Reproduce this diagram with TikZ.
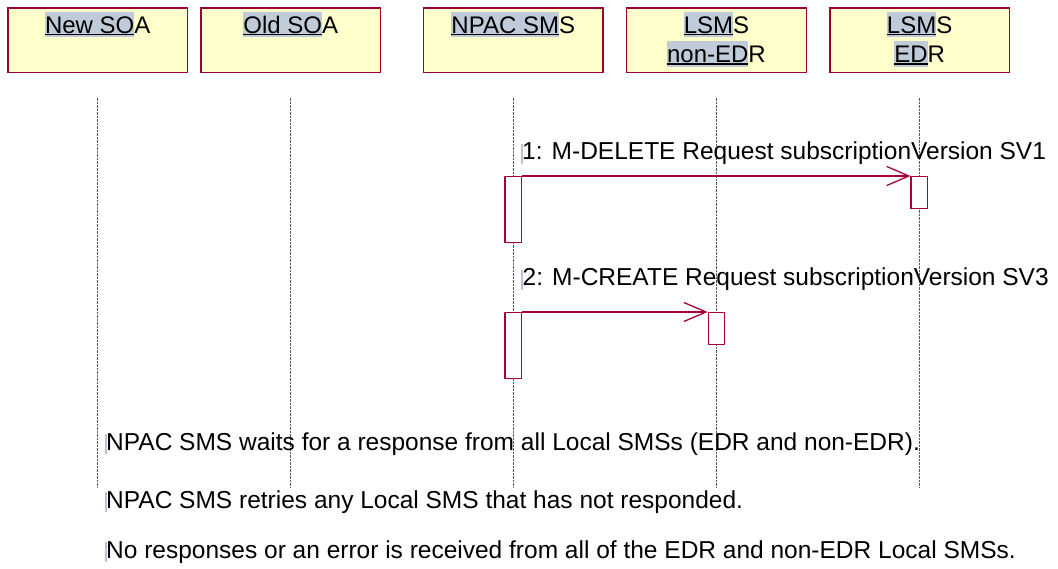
\documentclass[tikz,border=0pt]{standalone}
\usepackage{fontspec}
\setmainfont{Liberation Sans}
\usetikzlibrary{arrows.meta}
\definecolor{boxfill}{RGB}{255,255,204}
\definecolor{boxline}{RGB}{160,0,48}
\definecolor{msgline}{RGB}{168,0,56}
\definecolor{hlc}{RGB}{192,203,218}
\definecolor{barc}{RGB}{184,196,214}
\definecolor{lifec}{RGB}{85,85,85}
\newcommand\hlpart[1]{\setbox0\hbox{#1}{\setlength{\fboxsep}{0pt}\colorbox{hlc}{\rule[-4pt]{0pt}{25.3pt}\rlap{\rule[-1.9pt]{\wd0}{1.1pt}}\box0}}}
\begin{document}
\begin{tikzpicture}[x=1pt,y=-1pt,
  actor/.style={draw=boxline, fill=boxfill, line width=1.4pt, minimum width=179.5pt, minimum height=64.7pt, inner sep=0pt, anchor=north west},
  hdr/.style={anchor=base, inner sep=0pt, font=\fontsize{24}{29}\selectfont},
  lifeline/.style={draw=lifec, line width=0.8pt, dash pattern=on 2.5pt off 1pt},
  act/.style={draw=msgline, fill=white, line width=1.2pt, inner sep=0pt, anchor=north west, minimum width=16.4pt},
  msg/.style={draw=msgline, line width=1.3pt, -{Straight Barb[length=22pt,width=19pt,line width=1.3pt]}},
  lbl/.style={anchor=base west, inner sep=0pt, font=\fontsize{24.5}{29}\selectfont},
  cursorbar/.style={fill=barc}
]
\useasboundingbox (0,0) rectangle (1058,569);

% actor boxes
\node[actor] (b1) at (7.3,7.3) {};
\node[actor] (b2) at (200.3,7.3) {};
\node[actor] (b3) at (422.8,7.3) {};
\node[actor] (b4) at (626,7.3) {};
\node[actor] (b5) at (829.2,7.3) {};

\node[hdr] (t1) at ([yshift=-26pt]b1.north) {\hlpart{New SO}A};
\node[hdr] (t2) at ([yshift=-26pt]b2.north) {\hlpart{Old SO}A};
\node[hdr] (t3) at ([yshift=-26pt]b3.north) {\hlpart{NPAC SM}S};
\node[hdr] (t4a) at ([yshift=-26pt]b4.north) {\hlpart{LSM}S};
\node[hdr] (t4b) at ([yshift=-55.4pt]b4.north) {\hlpart{non-ED}R};
\node[hdr] (t5a) at ([yshift=-26pt]b5.north) {\hlpart{LSM}S};
\node[hdr] (t5b) at ([yshift=-55.4pt]b5.north) {\hlpart{ED}R};

% lifelines
\foreach \b in {b1,b2,b3,b4,b5}{
  \draw[lifeline] ([yshift=-25pt]\b.south) -- ([yshift=-414pt]\b.south);
}

% activations
\node[act, minimum height=66pt] (a1) at (504.4,176) {};
\node[act, minimum height=32pt] (e1) at (910.4,176) {};
\node[act, minimum height=66pt] (a2) at (504.4,312) {};
\node[act, minimum height=32pt] (n2) at (707.6,312) {};

% messages
\draw[msg] (a1.north east) -- (e1.north west);
\draw[msg] (a2.north east) -- (n2.north west);

\node[lbl] (m1) at (522,160) {1: M-DELETE Request subscriptionVersion SV1};
\node[lbl] (m2) at (522.5,286) {2: M-CREATE Request subscriptionVersion SV3};
\fill[cursorbar] ([xshift=-1.5pt,yshift=-4pt]m1.base west) rectangle ([xshift=0.5pt,yshift=16pt]m1.base west);
\fill[cursorbar] ([xshift=-1.5pt,yshift=-4pt]m2.base west) rectangle ([xshift=0.5pt,yshift=16pt]m2.base west);

% notes
\node[lbl] (n1) at (106,450) {NPAC SMS waits for a response from all Local SMSs (EDR and non-EDR).};
\node[lbl] (nt2) at (106,508) {NPAC SMS retries any Local SMS that has not responded.};
\node[lbl] (nt3) at (106,558) {No responses or an error is received from all of the EDR and non-EDR Local SMSs.};
\foreach \n in {n1,nt2,nt3}{
  \fill[cursorbar] ([xshift=-1.5pt,yshift=-4pt]\n.base west) rectangle ([xshift=0.5pt,yshift=16pt]\n.base west);
}
\end{tikzpicture}
\end{document}
